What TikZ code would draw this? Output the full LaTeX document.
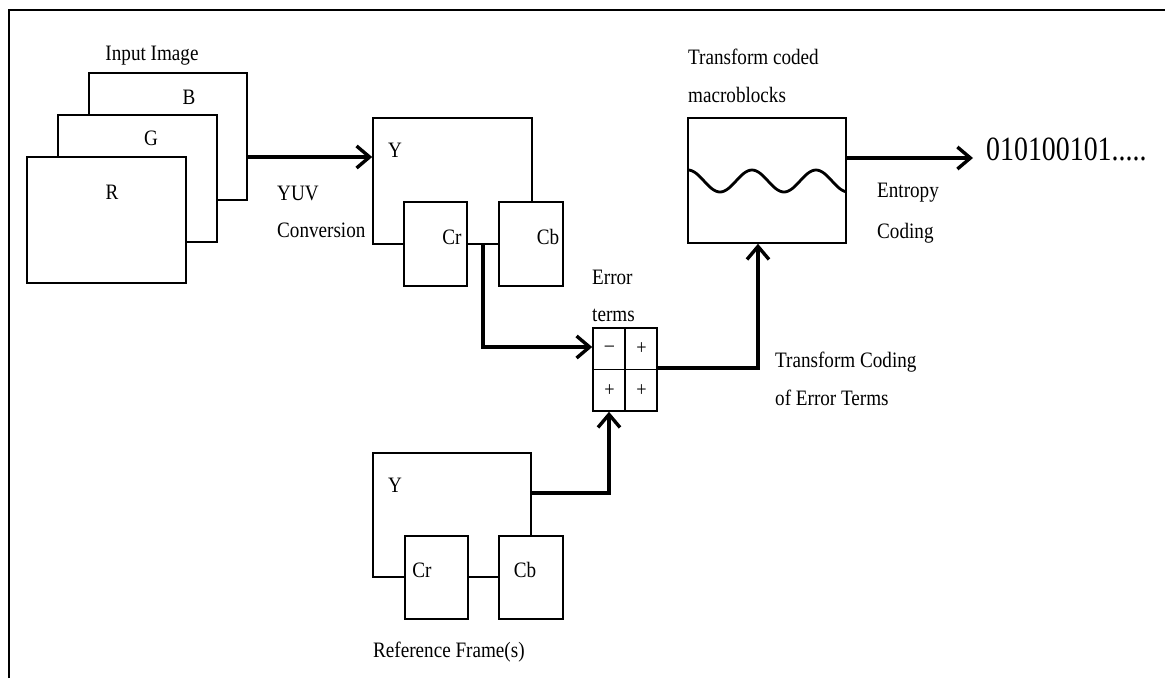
\documentclass[tikz,border=0pt]{standalone}
\usepackage{fontspec}
\setmainfont{Liberation Serif}[FakeStretch=0.87]
\newfontfamily\bitsfont{Liberation Serif}[FakeStretch=0.82]
\usetikzlibrary{arrows.meta,calc}
\begin{document}
\begin{tikzpicture}[x=1pt,y=-1pt,
  box/.style={draw,line width=1.6pt,fill=white,inner sep=0pt},
  lbl/.style={inner sep=0pt,font=\fontsize{22}{24}\selectfont},
  sgn/.style={inner sep=0pt,font=\fontsize{21}{22}\selectfont},
  arr/.style={line width=3.2pt,-{Straight Barb[length=13pt,width=22pt,line width=3.4pt]}}]
\useasboundingbox (0,0) rectangle (1165,678);
% frame
\draw[line width=1.6pt] (9,678) -- (9,10) -- (1165,10);
% input image planes
\node[box,minimum width=158pt,minimum height=127pt] (B) at (168,136.5) {};
\node[box,minimum width=159pt,minimum height=127pt] (G) at (137.5,178.5) {};
\node[box,minimum width=159pt,minimum height=126pt] (R) at (106.5,220) {};
\node[lbl] (inlbl) at (152,56) {Input Image};
\node[lbl] (Blbl) at (189,97) {B};
\node[lbl] (Glbl) at (151,138) {G};
\node[lbl] (Rlbl) at (112,192) {R};
% YUV frame
\node[box,minimum width=159pt,minimum height=126pt] (Y1) at (452.5,181) {};
\node[box,minimum width=63pt,minimum height=84pt] (Cr1) at (435.5,244) {};
\node[box,minimum width=64pt,minimum height=84pt] (Cb1) at (531,244) {};
\node[lbl] (Y1lbl) at (395,150) {Y};
\node[lbl] (Cr1lbl) at (452,237) {Cr};
\node[lbl] (Cb1lbl) at (548,237) {Cb};
\node[lbl,anchor=west] (yuv) at (277,193) {YUV};
\node[lbl,anchor=west] (conv) at (277,230) {Conversion};
% error terms
\node[box,minimum width=64pt,minimum height=83pt] (Err) at (625,369.5) {};
\draw[line width=1.4pt] (Err.north) -- (Err.south) (Err.west) -- (Err.east);
\node[sgn] (s1) at (609.5,349) {–};
\node[sgn] (s2) at (641.5,349) {+};
\node[sgn] (s3) at (609.5,391) {+};
\node[sgn] (s4) at (641.5,391) {+};
\node[lbl,anchor=west] (errl) at (592,277) {Error};
\node[lbl,anchor=west] (terml) at (592,315) {terms};
% transform coded block
\node[box,minimum width=158pt,minimum height=125pt] (T) at (767,180.5) {};
\draw[line width=2.8pt] plot[domain=688:846,samples=80,smooth] (\x,{181-11*cos(5.625*(\x-688))});
\node[lbl,anchor=west] (tc1) at (688,57) {Transform coded};
\node[lbl,anchor=west] (tc2) at (688,95) {macroblocks};
\node[inner sep=0pt,anchor=west,font=\bitsfont\fontsize{34}{36}\selectfont] (bits) at (986,149) {010100101.....};
\node[lbl,anchor=west] (ent1) at (877,193) {Entropy};
\node[lbl,anchor=west] (ent2) at (877,233) {Coding};
\node[lbl,anchor=west] (tce1) at (775,362) {Transform Coding};
\node[lbl,anchor=west] (tce2) at (775,398) {of Error Terms};
% reference frame
\node[box,minimum width=158pt,minimum height=124pt] (Y2) at (452,515) {};
\node[box,minimum width=63pt,minimum height=83pt] (Cr2) at (436.5,577.5) {};
\node[box,minimum width=64pt,minimum height=83pt] (Cb2) at (531,577.5) {};
\node[lbl] (Y2lbl) at (395,485) {Y};
\node[lbl] (Cr2lbl) at (422,570) {Cr};
\node[lbl] (Cb2lbl) at (525,570) {Cb};
\node[lbl,anchor=west] (reflbl) at (373,652) {Reference Frame(s)};
% connectors
\coordinate (a1) at (247,157);
\draw[arr] (a1) -- (Y1.west |- a1);
\coordinate (a2) at (483,244);
\coordinate (a2b) at (483,347);
\draw[arr] (a2) -- (a2b) -- (Err.west |- a2b);
\coordinate (a3) at (531,493);
\coordinate (a3b) at (609,493);
\draw[arr] (a3) -- (a3b) -- (a3b |- Err.south);
\coordinate (a4) at (657,368);
\coordinate (a4b) at (758,368);
\draw[arr] (a4) -- (a4b) -- (a4b |- T.south);
\coordinate (a5) at (846,158);
\draw[arr] (a5) -- (973,158);
\end{tikzpicture}
\end{document}
